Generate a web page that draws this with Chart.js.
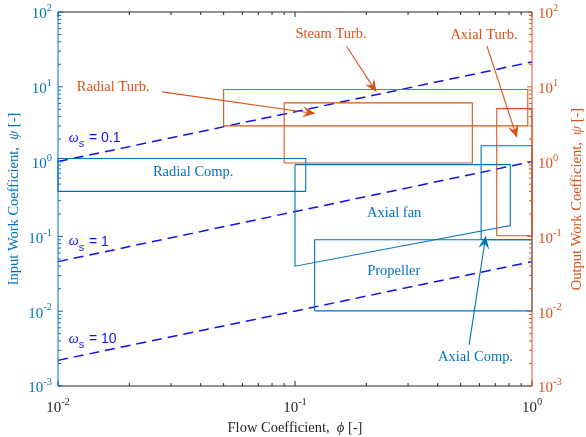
<!DOCTYPE html>
<html><head><meta charset="utf-8">
<script src="https://cdn.jsdelivr.net/npm/chart.js@4.4.1/dist/chart.umd.min.js"></script>
<style>html,body{margin:0;padding:0;background:#fff;overflow:hidden;}</style>
</head><body>
<canvas id="c" width="586" height="437"></canvas>
<script>
// ---- tick labels ----
const phiTicks = [0.01, 0.1, 1];
const phiTickExp = ['-2', '-1', '0'];
const psiTicks = [0.001, 0.01, 0.1, 1, 10, 100];
const psiTickExp = ['-3', '-2', '-1', '0', '1', '2'];

// ---- specific speed lines (omega_s) ----
const omegaPhi = [0.01, 1];
const omega01Psi = [1.0, 21.5];
const omega1Psi = [0.046, 1.0];
const omega10Psi = [0.0022, 0.046];

// ---- turbine regions (output work coefficient) ----
const steamTurbPhi = [0.05, 0.96];
const steamTurbPsi = [3.0, 9.2];
const radialTurbPhi = [0.09, 0.56];
const radialTurbPsi = [0.96, 6.1];
const axialTurbPhi = [0.71, 1.0];
const axialTurbPsi = [0.102, 5.1];

// ---- compressor / fan regions (input work coefficient) ----
const radialCompPhi = [0.01, 0.111];
const radialCompPsi = [0.40, 1.1];
const axialCompPhi = [0.61, 1.0];
const axialCompPsi = [0.09, 1.63];
const propellerPhi = [0.121, 1.0];
const propellerPsi = [0.0101, 0.09];
const axialFanPhi = [0.1, 0.81, 0.81, 0.1];
const axialFanPsi = [0.91, 0.91, 0.14, 0.040];

const ORANGE = '#D95319';
const BLUE = '#0072BD';
const DASH = '#1010F0';
const DARK = '#262626';

function rectPts(phi, psi) {
  return [
    {x: phi[0], y: psi[0]}, {x: phi[1], y: psi[0]},
    {x: phi[1], y: psi[1]}, {x: phi[0], y: psi[1]}, {x: phi[0], y: psi[0]}
  ];
}
function polyPts(phi, psi) {
  const p = phi.map((v, i) => ({x: v, y: psi[i]}));
  p.push({x: phi[0], y: psi[0]});
  return p;
}
function linePts(phi, psi) { return phi.map((v, i) => ({x: v, y: psi[i]})); }

function ds(label, data, color, axis, dash, width) {
  return {
    label, data, borderColor: color, backgroundColor: color, showLine: true,
    pointRadius: 0, borderWidth: width || 1.1, borderDash: dash || [],
    yAxisID: axis, fill: false, clip: false, tension: 0
  };
}

// annotation texts (positions in data coordinates)
const labelTexts = [
  {t: 'Steam Turb.', x: 0.142, y: 50.8, c: ORANGE},
  {t: 'Axial Turb.', x: 0.627, y: 49.2, c: ORANGE},
  {t: 'Radial Turb.', x: 0.0171, y: 9.94, c: ORANGE},
  {t: 'Radial Comp.', x: 0.0372, y: 0.726, c: BLUE},
  {t: 'Axial fan', x: 0.262, y: 0.205, c: BLUE},
  {t: 'Propeller', x: 0.261, y: 0.0345, c: BLUE},
  {t: 'Axial Comp.', x: 0.578, y: 0.00244, c: BLUE}
];
const omegaLabels = [
  {v: '0.1', x: 0.0111, y: 2.07},
  {v: '1', x: 0.0111, y: 0.085},
  {v: '10', x: 0.0111, y: 0.0042}
];
const arrows = [
  {x0: 0.0275, y0: 8.55, x1: 0.122, y1: 4.38, c: ORANGE},
  {x0: 0.165, y0: 34.8, x1: 0.221, y1: 8.44, c: ORANGE},
  {x0: 0.646, y0: 34.8, x1: 0.865, y1: 2.07, c: ORANGE},
  {x0: 0.543, y0: 0.00354, x1: 0.638, y1: 0.102, c: BLUE}
];

const SERIF = '"Liberation Serif", "Times New Roman", serif';
const SANS = '"Liberation Sans", Arial, sans-serif';

function drawArrow(ctx, x0, y0, x1, y1, color) {
  const dx = x1 - x0, dy = y1 - y0, len = Math.hypot(dx, dy);
  const ux = dx / len, uy = dy / len, px = -uy, py = ux;
  const L = 13, W = 5.5, N = 8;
  ctx.save();
  ctx.strokeStyle = color; ctx.fillStyle = color; ctx.lineWidth = 1.1;
  ctx.beginPath(); ctx.moveTo(x0, y0); ctx.lineTo(x1 - ux * N, y1 - uy * N); ctx.stroke();
  ctx.beginPath();
  ctx.moveTo(x1, y1);
  ctx.lineTo(x1 - ux * L + px * W, y1 - uy * L + py * W);
  ctx.lineTo(x1 - ux * N, y1 - uy * N);
  ctx.lineTo(x1 - ux * L - px * W, y1 - uy * L - py * W);
  ctx.closePath(); ctx.fill();
  ctx.restore();
}

function drawPow(ctx, exp, x, y, align, color) {
  ctx.save();
  ctx.fillStyle = color;
  ctx.textBaseline = 'middle'; ctx.textAlign = 'left';
  ctx.font = '15px ' + SERIF;
  const wb = ctx.measureText('10').width;
  ctx.font = '10.5px ' + SERIF;
  const we = ctx.measureText(exp).width;
  const tot = wb + we;
  let sx = align === 'right' ? x - tot : align === 'center' ? x - tot / 2 : x;
  ctx.font = '15px ' + SERIF;
  ctx.fillText('10', sx, y + 2.5);
  ctx.font = '10.5px ' + SERIF;
  ctx.fillText(exp, sx + wb, y - 3.5);
  ctx.restore();
}

function drawTitle(ctx, parts, cx, cy, rot, color) {
  ctx.save();
  ctx.translate(cx, cy); ctx.rotate(rot);
  ctx.fillStyle = color; ctx.textBaseline = 'middle'; ctx.textAlign = 'left';
  let w = 0;
  parts.forEach(p => { ctx.font = p.f; w += ctx.measureText(p.s).width; });
  let x = -w / 2;
  parts.forEach(p => { ctx.font = p.f; ctx.fillText(p.s, x, 0); x += ctx.measureText(p.s).width; });
  ctx.restore();
}

const decor = {
  id: 'decor',
  afterDatasetsDraw(chart) {
    const ctx = chart.ctx, a = chart.chartArea;
    const xs = chart.scales.x, ys = chart.scales.y, y2 = chart.scales.y2;
    ctx.save();
    const xMinor = [], yMinor = [];
    for (let d = -2; d < 0; d++) for (let m = 2; m <= 9; m++) xMinor.push(m * Math.pow(10, d));
    for (let d = -3; d < 2; d++) for (let m = 2; m <= 9; m++) yMinor.push(m * Math.pow(10, d));
    ctx.lineWidth = 1;
    // bottom & top
    ctx.strokeStyle = DARK;
    ctx.beginPath();
    phiTicks.forEach(v => { const px = xs.getPixelForValue(v);
      ctx.moveTo(px, a.bottom); ctx.lineTo(px, a.bottom - 5);
      ctx.moveTo(px, a.top); ctx.lineTo(px, a.top + 5); });
    xMinor.forEach(v => { const px = xs.getPixelForValue(v);
      ctx.moveTo(px, a.bottom); ctx.lineTo(px, a.bottom - 3);
      ctx.moveTo(px, a.top); ctx.lineTo(px, a.top + 3); });
    ctx.moveTo(a.left, a.bottom); ctx.lineTo(a.right, a.bottom);
    ctx.moveTo(a.left, a.top); ctx.lineTo(a.right, a.top);
    ctx.stroke();
    // left
    ctx.strokeStyle = BLUE;
    ctx.beginPath();
    psiTicks.forEach(v => { const py = ys.getPixelForValue(v); ctx.moveTo(a.left, py); ctx.lineTo(a.left + 5, py); });
    yMinor.forEach(v => { const py = ys.getPixelForValue(v); ctx.moveTo(a.left, py); ctx.lineTo(a.left + 3, py); });
    ctx.moveTo(a.left, a.top); ctx.lineTo(a.left, a.bottom);
    ctx.stroke();
    // right
    ctx.strokeStyle = ORANGE;
    ctx.beginPath();
    psiTicks.forEach(v => { const py = y2.getPixelForValue(v); ctx.moveTo(a.right, py); ctx.lineTo(a.right - 5, py); });
    yMinor.forEach(v => { const py = y2.getPixelForValue(v); ctx.moveTo(a.right, py); ctx.lineTo(a.right - 3, py); });
    ctx.moveTo(a.right, a.top); ctx.lineTo(a.right, a.bottom);
    ctx.stroke();

    // tick labels
    psiTicks.forEach((v, i) => drawPow(ctx, psiTickExp[i], a.left - 6, ys.getPixelForValue(v), 'right', BLUE));
    psiTicks.forEach((v, i) => drawPow(ctx, psiTickExp[i], a.right + 6, y2.getPixelForValue(v), 'left', ORANGE));
    phiTicks.forEach((v, i) => drawPow(ctx, phiTickExp[i], xs.getPixelForValue(v), a.bottom + 20, 'center', DARK));

    // axis titles
    const F = '14.5px ' + SERIF, FI = 'italic 14.5px ' + SERIF;
    drawTitle(ctx, [{s: 'Flow Coefficient,  ', f: F}, {s: '\u03D5', f: FI}, {s: ' [-]', f: F}],
      (a.left + a.right) / 2, a.bottom + 42, 0, DARK);
    drawTitle(ctx, [{s: 'Input Work Coefficient,  ', f: F}, {s: '\u03C8', f: FI}, {s: ' [-]', f: F}],
      14, (a.top + a.bottom) / 2, -Math.PI / 2, BLUE);
    drawTitle(ctx, [{s: 'Output Work Coefficient,  ', f: F}, {s: '\u03C8', f: FI}, {s: ' [-]', f: F}],
      577, (a.top + a.bottom) / 2, -Math.PI / 2, ORANGE);

    // arrows
    arrows.forEach(r => {
      const ax = r.c === ORANGE ? y2 : ys;
      drawArrow(ctx, xs.getPixelForValue(r.x0), ax.getPixelForValue(r.y0),
        xs.getPixelForValue(r.x1), ax.getPixelForValue(r.y1), r.c);
    });

    // region labels
    ctx.textAlign = 'center'; ctx.textBaseline = 'middle';
    ctx.font = '14.5px ' + SERIF;
    labelTexts.forEach(l => {
      ctx.fillStyle = l.c;
      const ax = l.c === ORANGE ? y2 : ys;
      ctx.fillText(l.t, xs.getPixelForValue(l.x), ax.getPixelForValue(l.y));
    });

    // omega labels
    ctx.fillStyle = DASH; ctx.textAlign = 'left';
    omegaLabels.forEach(o => {
      const px = xs.getPixelForValue(o.x), py = ys.getPixelForValue(o.y);
      ctx.font = 'italic 14px ' + SERIF;
      ctx.fillText('\u03C9', px, py);
      const w1 = ctx.measureText('\u03C9').width;
      ctx.font = '11px ' + SANS;
      ctx.fillText('s', px + w1, py + 6);
      const w2 = ctx.measureText('s').width;
      ctx.font = '14px ' + SANS;
      ctx.fillText(' = ' + o.v, px + w1 + w2 + 1, py);
    });
    ctx.restore();
  }
};

const data = {
  datasets: [
    ds('Steam Turb.', rectPts(steamTurbPhi, steamTurbPsi), ORANGE, 'y2'),
    ds('Radial Turb.', rectPts(radialTurbPhi, radialTurbPsi), ORANGE, 'y2'),
    ds('Axial Turb.', rectPts(axialTurbPhi, axialTurbPsi), ORANGE, 'y2'),
    ds('Radial Comp.', rectPts(radialCompPhi, radialCompPsi), BLUE, 'y'),
    ds('Axial fan', polyPts(axialFanPhi, axialFanPsi), BLUE, 'y'),
    ds('Propeller', rectPts(propellerPhi, propellerPsi), BLUE, 'y'),
    ds('Axial Comp.', rectPts(axialCompPhi, axialCompPsi), BLUE, 'y'),
    ds('\u03C9s = 0.1', linePts(omegaPhi, omega01Psi), DASH, 'y', [10, 6], 1.5),
    ds('\u03C9s = 1', linePts(omegaPhi, omega1Psi), DASH, 'y', [10, 6], 1.5),
    ds('\u03C9s = 10', linePts(omegaPhi, omega10Psi), DASH, 'y', [10, 6], 1.5)
  ]
};

const hiddenAxis = (extra) => Object.assign({
  type: 'logarithmic',
  ticks: {display: false},
  grid: {display: false, drawTicks: false},
  border: {display: false},
  title: {display: false}
}, extra);

new Chart(document.getElementById('c'), {
  type: 'scatter',
  data,
  options: {
    responsive: false,
    animation: false,
    devicePixelRatio: 1,
    layout: {padding: {left: 58, right: 54, top: 12, bottom: 51}},
    plugins: {legend: {display: false}, tooltip: {enabled: false}},
    scales: {
      x: hiddenAxis({position: 'bottom', min: 0.01, max: 1}),
      y: hiddenAxis({position: 'left', min: 0.001, max: 100}),
      y2: hiddenAxis({position: 'right', min: 0.001, max: 100})
    }
  },
  plugins: [decor]
});
</script>
</body></html>
